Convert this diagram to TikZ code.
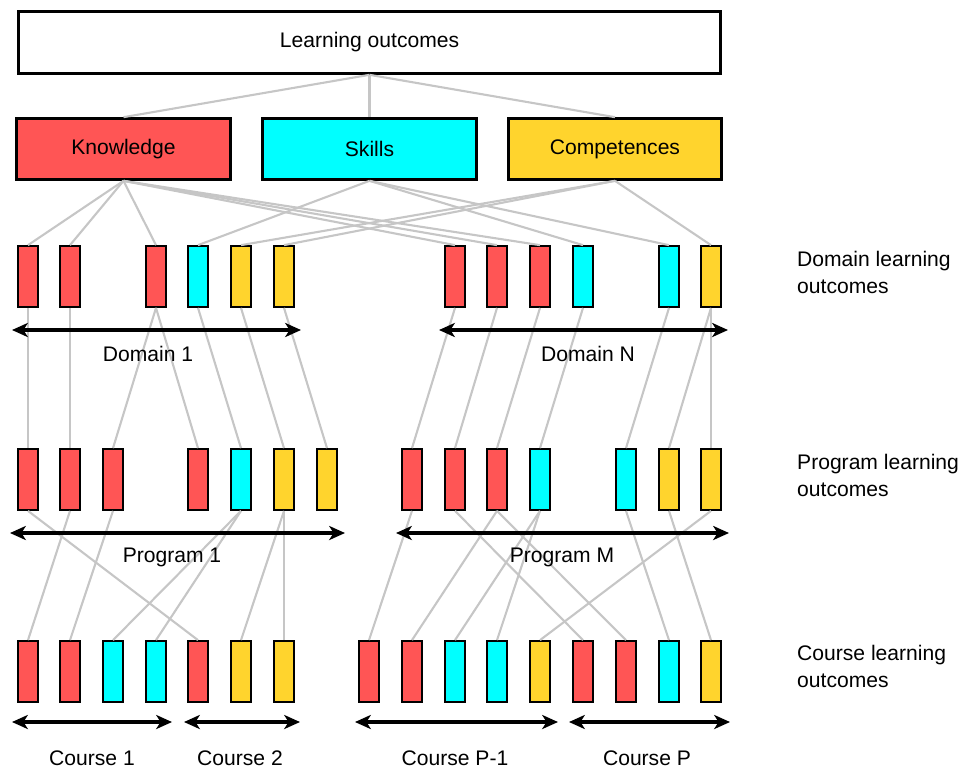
\documentclass[tikz,border=0pt]{standalone}
\usepackage{fontspec}
\setmainfont{Liberation Sans}
\usepackage{tikz}
\usetikzlibrary{positioning,arrows.meta}
\definecolor{knred}{RGB}{255,85,85}
\definecolor{skcyan}{RGB}{0,255,255}
\definecolor{coyellow}{RGB}{255,212,45}

\begin{document}
\begin{tikzpicture}[x=0.02cm,y=-0.02cm,>={Stealth[length=9pt,width=8pt,inset=2.5pt]},
      font=\fontsize{12}{15.3}\selectfont,
      lo node/.style={rectangle,draw,line width=1.5pt,minimum width=14.04cm,minimum height=1.24cm},
      main node/.style={rectangle,draw,line width=1.8pt,minimum width=4.27cm,minimum height=1.21cm},
      bar/.style={rectangle,draw,line width=1pt,minimum width=0.4cm,minimum height=1.22cm,inner sep=0pt},
      kbar/.style={bar,fill=knred},
      sbar/.style={bar,fill=skcyan},
      cbar/.style={bar,fill=coyellow},
      link/.style={draw=gray!45,line width=1.2pt},
      span/.style={<->,line width=2pt},
      level/.style={anchor=west,align=left}]
      \useasboundingbox (0,0) rectangle (961,769);

      % top of the hierarchy
      \node[lo node] (lo) at (369.5,42.5) {Learning outcomes};
      \node[main node,fill=knred] (kn) at (123.5,149) {Knowledge};
      \node[main node,fill=skcyan] (sk) at (369.5,149) {Skills};
      \node[main node,fill=coyellow] (co) at (615,149) {Competences};

      % domain learning outcomes
      \node[kbar] (d11) at (28,276.5) {};
      \node[kbar] (d12) at (70,276.5) {};
      \node[kbar] (d13) at (156,276.5) {};
      \node[sbar] (d14) at (198,276.5) {};
      \node[cbar] (d15) at (241,276.5) {};
      \node[cbar] (d16) at (284,276.5) {};
      \node[kbar] (dn1) at (455,276.5) {};
      \node[kbar] (dn2) at (497,276.5) {};
      \node[kbar] (dn3) at (540,276.5) {};
      \node[sbar] (dn4) at (583,276.5) {};
      \node[sbar] (dn5) at (669,276.5) {};
      \node[cbar] (dn6) at (711,276.5) {};

      % program learning outcomes
      \node[kbar] (p11) at (28,479.5) {};
      \node[kbar] (p12) at (70,479.5) {};
      \node[kbar] (p13) at (113,479.5) {};
      \node[kbar] (p14) at (198,479.5) {};
      \node[sbar] (p15) at (241,479.5) {};
      \node[cbar] (p16) at (284,479.5) {};
      \node[cbar] (p17) at (327,479.5) {};
      \node[kbar] (pm1) at (412,479.5) {};
      \node[kbar] (pm2) at (455,479.5) {};
      \node[kbar] (pm3) at (497,479.5) {};
      \node[sbar] (pm4) at (540,479.5) {};
      \node[sbar] (pm5) at (626,479.5) {};
      \node[cbar] (pm6) at (669,479.5) {};
      \node[cbar] (pm7) at (711,479.5) {};

      % course learning outcomes
      \node[kbar] (c11) at (28,671.5) {};
      \node[kbar] (c12) at (70,671.5) {};
      \node[sbar] (c13) at (113,671.5) {};
      \node[sbar] (c14) at (156,671.5) {};
      \node[kbar] (c21) at (198,671.5) {};
      \node[cbar] (c22) at (241,671.5) {};
      \node[cbar] (c23) at (284,671.5) {};
      \node[kbar] (cp1) at (369,671.5) {};
      \node[kbar] (cp2) at (412,671.5) {};
      \node[sbar] (cp3) at (455,671.5) {};
      \node[sbar] (cp4) at (497,671.5) {};
      \node[cbar] (cp5) at (540,671.5) {};
      \node[kbar] (cq1) at (583,671.5) {};
      \node[kbar] (cq2) at (626,671.5) {};
      \node[sbar] (cq3) at (669,671.5) {};
      \node[cbar] (cq4) at (711,671.5) {};

      % level names
      \node[level] (dlo) at (791,272.5) {Domain learning\\outcomes};
      \node[level] (plo) at (791,475.5) {Program learning\\outcomes};
      \node[level] (clo) at (791,666.5) {Course learning\\outcomes};

      \path[link]
        (lo.south) edge (kn.north)
        (lo.south) edge (sk.north)
        (lo.south) edge (co.north)
        (kn.south) edge (d11.north)
        (kn.south) edge (d12.north)
        (kn.south) edge (d13.north)
        (kn.south) edge (dn1.north)
        (kn.south) edge (dn2.north)
        (kn.south) edge (dn3.north)
        (sk.south) edge (d14.north)
        (sk.south) edge (dn4.north)
        (sk.south) edge (dn5.north)
        (co.south) edge (d15.north)
        (co.south) edge (d16.north)
        (co.south) edge (dn6.north)

        (d11.south) edge (p11.north)
        (d12.south) edge (p12.north)
        (d13.south) edge (p13.north)
        (d13.south) edge (p14.north)
        (d14.south) edge (p15.north)
        (d15.south) edge (p16.north)
        (d16.south) edge (p17.north)
        (dn1.south) edge (pm1.north)
        (dn2.south) edge (pm2.north)
        (dn3.south) edge (pm3.north)
        (dn4.south) edge (pm4.north)
        (dn5.south) edge (pm5.north)
        (dn6.south) edge (pm6.north)
        (dn6.south) edge (pm7.north)

        (p11.south) edge (c21.north)
        (p12.south) edge (c11.north)
        (p13.south) edge (c12.north)
        (p15.south) edge (c13.north)
        (p15.south) edge (c14.north)
        (p16.south) edge (c22.north)
        (p16.south) edge (c23.north)
        (pm1.south) edge (cp1.north)
        (pm2.south) edge (cq1.north)
        (pm3.south) edge (cp2.north)
        (pm3.south) edge (cq2.north)
        (pm4.south) edge (cp3.north)
        (pm4.south) edge (cp4.north)
        (pm5.south) edge (cq3.north)
        (pm6.south) edge (cq4.north)
        (pm7.south) edge (cp5.north);

      % spans
      \coordinate (d1l) at (12,330);  \coordinate (d1r) at (301,330);
      \coordinate (dnl) at (439,330); \coordinate (dnr) at (728,330);
      \coordinate (p1l) at (10,533);  \coordinate (p1r) at (345,533);
      \coordinate (pml) at (396,533); \coordinate (pmr) at (729,533);
      \coordinate (c1l) at (12,722);  \coordinate (c1r) at (172,722);
      \coordinate (c2l) at (184,722); \coordinate (c2r) at (300,722);
      \coordinate (cpl) at (355,722); \coordinate (cpr) at (558,722);
      \coordinate (cql) at (569,722); \coordinate (cqr) at (730,722);
      \draw[span] (d1l) -- (d1r);
      \draw[span] (dnl) -- (dnr);
      \draw[span] (p1l) -- (p1r);
      \draw[span] (pml) -- (pmr);
      \draw[span] (c1l) -- (c1r);
      \draw[span] (c2l) -- (c2r);
      \draw[span] (cpl) -- (cpr);
      \draw[span] (cql) -- (cqr);

      \node (dom1) at (148,354) {Domain 1};
      \node (domn) at (588,354) {Domain N};
      \node (prog1) at (172,557) {Program 1};
      \node (progm) at (562,557) {Program M};
      \node (crs1) at (92,758) {Course 1};
      \node (crs2) at (240,758) {Course 2};
      \node (crsp1) at (455,758) {Course P-1};
      \node (crsp) at (647,758) {Course P};
    \end{tikzpicture}
\end{document}
